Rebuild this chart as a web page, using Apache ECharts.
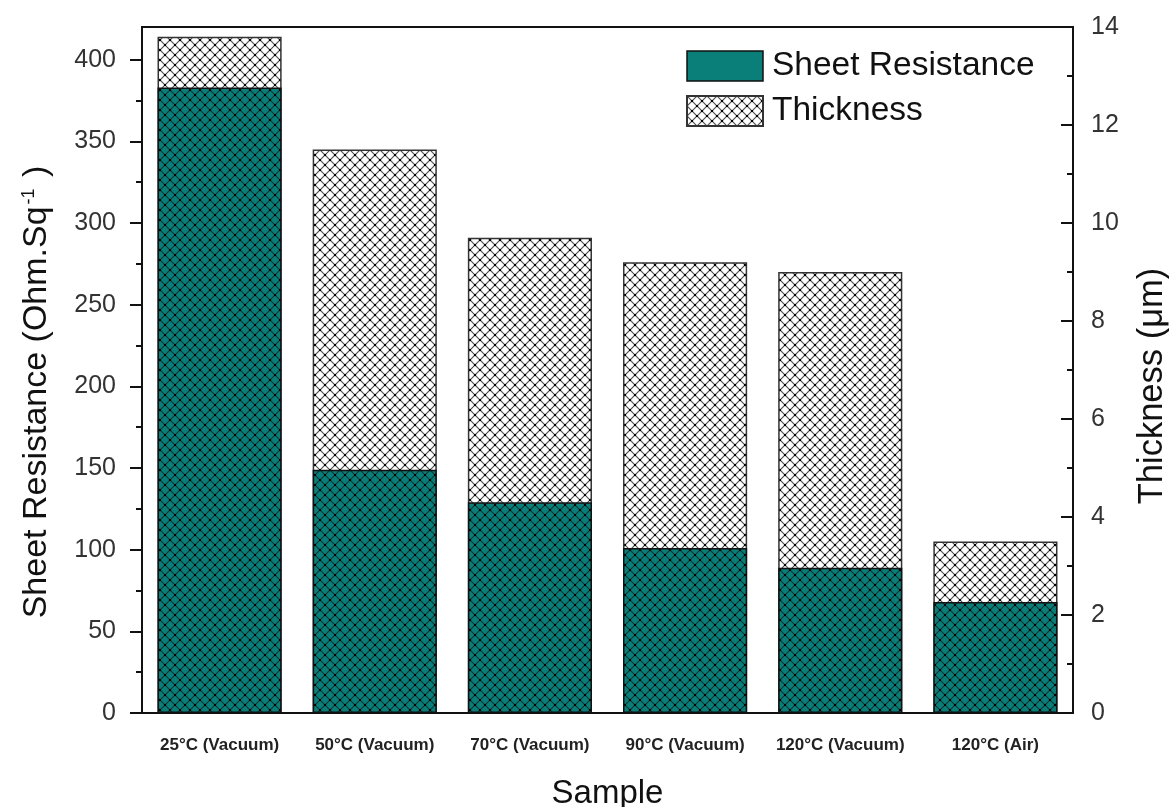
<!DOCTYPE html>
<html>
<head>
<meta charset="utf-8">
<script src="https://cdn.jsdelivr.net/npm/echarts@6/dist/echarts.min.js"></script>
<style>html,body{margin:0;padding:0;background:#fff;overflow:hidden}#c{width:1171px;height:807px}</style>
</head>
<body>
<div id="c"></div>
<script>
const categories = ['25°C (Vacuum)', '50°C (Vacuum)', '70°C (Vacuum)', '90°C (Vacuum)', '120°C (Vacuum)', '120°C (Air)'];
const sheetResistance = [383, 149, 129, 101, 89, 68];
const thickness = [13.8, 11.5, 9.7, 9.2, 9.0, 3.5];
const leftTicks = [0, 50, 100, 150, 200, 250, 300, 350, 400];
const leftMinorTicks = [25, 75, 125, 175, 225, 275, 325, 375];

const TEAL = '#0a7e79';
const FONT = '"Liberation Sans", Arial, sans-serif';

function hatch(bg, line, dot, lw) {
  const s = 10;
  const c = document.createElement('canvas');
  c.width = s; c.height = s;
  const ctx = c.getContext('2d');
  ctx.fillStyle = bg; ctx.fillRect(0, 0, s, s);
  ctx.strokeStyle = line; ctx.lineWidth = lw;
  ctx.beginPath();
  ctx.moveTo(-2, -2); ctx.lineTo(s + 2, s + 2);
  ctx.moveTo(-2, s + 2); ctx.lineTo(s + 2, -2);
  ctx.stroke();
  ctx.fillStyle = dot;
  ctx.fillRect(s / 2 - 1, s / 2 - 1, 2, 2);
  ctx.fillRect(-1, -1, 2, 2); ctx.fillRect(s - 1, -1, 2, 2);
  ctx.fillRect(-1, s - 1, 2, 2); ctx.fillRect(s - 1, s - 1, 2, 2);
  return c;
}

const chart = echarts.init(document.getElementById('c'), null, {renderer: 'canvas'});
const axisText = {color: '#333', fontSize: 25, fontFamily: FONT};
chart.setOption({
  animation: false,
  backgroundColor: '#fff',
  grid: {left: 142, right: 98, top: 27, bottom: 94, show: true, borderColor: '#111', borderWidth: 2,
    containLabel: false, outerBoundsMode: 'none'},
  legend: {
    orient: 'vertical', left: 686, top: 49, padding: 0, itemWidth: 76, itemHeight: 30, itemGap: 11,
    textStyle: {color: '#111', fontSize: 33.5, fontFamily: FONT, padding: [0, 0, 0, 4]},
    data: [
      {name: 'Sheet Resistance', icon: 'rect', itemStyle: {color: TEAL, borderColor: '#111', borderWidth: 1.5}},
      {name: 'Thickness', icon: 'rect'}
    ]
  },
  xAxis: {
    type: 'category', data: categories, boundaryGap: true,
    axisLine: {lineStyle: {color: '#111', width: 2}},
    axisTick: {alignWithLabel: true, length: 14, lineStyle: {color: '#111', width: 2}},
    axisLabel: {color: '#222', fontSize: 17, fontWeight: 'bold', fontFamily: FONT, margin: 24, interval: 0},
    name: 'Sample', nameLocation: 'middle', nameGap: 64,
    nameTextStyle: {color: '#111', fontSize: 33, fontFamily: FONT}
  },
  yAxis: [
    {
      type: 'value', position: 'left', min: 0, max: 420,
      axisLine: {show: true, lineStyle: {color: '#111', width: 2}},
      axisTick: {show: true, length: 12, customValues: leftTicks, lineStyle: {color: '#111', width: 2}},
      axisLabel: {...axisText, margin: 26, customValues: leftTicks},
      splitLine: {show: false},
      name: 'Sheet Resistance (Ohm.Sq{sup|-1} )', nameLocation: 'middle', nameGap: 88,
      nameTextStyle: {color: '#111', fontSize: 34, fontFamily: FONT, padding: [0, 44, 0, 0],
        rich: {sup: {fontSize: 18, fontFamily: FONT, color: '#111', verticalAlign: 'top', padding: [0, 2, 16, 2]}}}
    },
    {
      type: 'value', position: 'right', min: 0, max: 14, interval: 2,
      axisLine: {show: true, lineStyle: {color: '#111', width: 2}},
      axisTick: {show: true, inside: true, length: 12, lineStyle: {color: '#111', width: 2}},
      minorTick: {show: true, splitNumber: 2, length: 6, lineStyle: {color: '#111', width: 2}},
      axisLabel: {...axisText, margin: 18},
      splitLine: {show: false}, minorSplitLine: {show: false},
      name: 'Thickness (μm)', nameLocation: 'middle', nameGap: 62,
      nameTextStyle: {color: '#111', fontSize: 34.5, fontFamily: FONT, padding: [0, 32, 0, 0]}
    },
    {
      type: 'value', position: 'left', min: 0, max: 420,
      axisLine: {show: false},
      axisTick: {show: true, length: 6, customValues: leftMinorTicks, lineStyle: {color: '#111', width: 2}},
      axisLabel: {show: false},
      splitLine: {show: false}
    }
  ],
  series: [
    {
      name: 'Thickness', type: 'bar', yAxisIndex: 1, data: thickness,
      barWidth: '80%', barGap: '-100%',
      itemStyle: {color: {image: hatch('#ffffff', '#505050', '#000000', 1.2), repeat: 'repeat'}, borderColor: '#333', borderWidth: 1.5}
    },
    {
      name: 'Sheet Resistance', type: 'bar', yAxisIndex: 0, data: sheetResistance,
      barWidth: '80%', barGap: '-100%',
      itemStyle: {color: {image: hatch(TEAL, '#0a3634', '#000000', 1.1), repeat: 'repeat'}, borderColor: '#111', borderWidth: 1.5}
    }
  ]
});
</script>
</body>
</html>
